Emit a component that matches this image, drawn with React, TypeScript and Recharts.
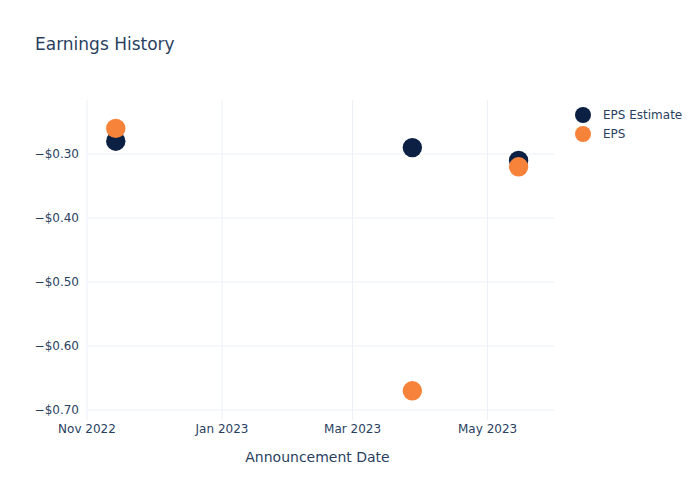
import { ScatterChart, Scatter, XAxis, YAxis, CartesianGrid, Label } from "recharts";

const announcementDates = ["2022-11-14", "2023-03-28", "2023-05-15"];
const epsEstimate = [-0.28, -0.29, -0.31];
const epsActual = [-0.26, -0.67, -0.32];

const xTickDates = ["2022-11-01", "2023-01-01", "2023-03-01", "2023-05-01"];
const xTickLabels = ["Nov 2022", "Jan 2023", "Mar 2023", "May 2023"];
const yTicks = [-0.7, -0.6, -0.5, -0.4, -0.3];

const seriesNames = ["EPS Estimate", "EPS"];
const seriesColors = ["#0c2043", "#f7823a"];

const ts = (d: string) => Date.parse(d + "T00:00:00Z");

const estimateData = announcementDates.map((d, i) => ({ x: ts(d), y: epsEstimate[i] }));
const actualData = announcementDates.map((d, i) => ({ x: ts(d), y: epsActual[i] }));
const xTicks = xTickDates.map(ts);

const font = "DejaVu Sans, Verdana, sans-serif";
const textColor = "#2a3f5f";
const gridColor = "#ebf0f8";

const dot = (color: string) => (props: any) =>
  <circle cx={props.cx} cy={props.cy} r={9.7} fill={color} />;

const fmtY = (v: number) => "\u2212$" + Math.abs(v).toFixed(2);
const fmtX = (v: number) => xTickLabels[xTicks.indexOf(v)] ?? "";

export default function App() {
  return (
    <div style={{ position: "absolute", left: 0, top: 0, width: 700, height: 500, background: "#fff", fontFamily: font }}>
      <div style={{ position: "absolute", left: 35, top: 34, fontSize: 17, color: textColor }}>
        Earnings History
      </div>
      <ScatterChart width={700} height={500} margin={{ top: 100, right: 146, bottom: 30, left: 27 }}>
        <CartesianGrid stroke={gridColor} strokeWidth={1} horizontalValues={yTicks} verticalValues={xTicks} />
        <XAxis
          type="number"
          dataKey="x"
          domain={[ts("2022-11-01"), ts("2023-05-31")]}
          ticks={xTicks}
          tickFormatter={fmtX}
          allowDataOverflow
          axisLine={false}
          tickLine={false}
          tickSize={0}
          tickMargin={4}
          height={50}
          tick={{ fill: textColor, fontSize: 12, fontFamily: font }}
        >
          <Label value="Announcement Date" position="insideBottom" offset={8} dx={-3} fill={textColor} fontSize={14} fontFamily={font} />
        </XAxis>
        <YAxis
          type="number"
          dataKey="y"
          domain={[-0.7156, -0.2156]}
          ticks={yTicks}
          tickFormatter={fmtY}
          allowDataOverflow
          axisLine={false}
          tickLine={false}
          tickSize={0}
          tickMargin={8}
          width={60}
          tick={{ fill: textColor, fontSize: 12, fontFamily: font }}
        />
        <Scatter name={seriesNames[0]} data={estimateData} fill={seriesColors[0]} shape={dot(seriesColors[0])} isAnimationActive={false} />
        <Scatter name={seriesNames[1]} data={actualData} fill={seriesColors[1]} shape={dot(seriesColors[1])} isAnimationActive={false} />
      </ScatterChart>
      {seriesNames.map((n, i) => (
        <div key={n} style={{ position: "absolute", left: 575, top: 107 + i * 19, display: "flex", alignItems: "center", fontSize: 12, color: textColor }}>
          <span style={{ width: 16, height: 16, borderRadius: 8, background: seriesColors[i], display: "inline-block" }} />
          <span style={{ marginLeft: 12 }}>{n}</span>
        </div>
      ))}
    </div>
  );
}
